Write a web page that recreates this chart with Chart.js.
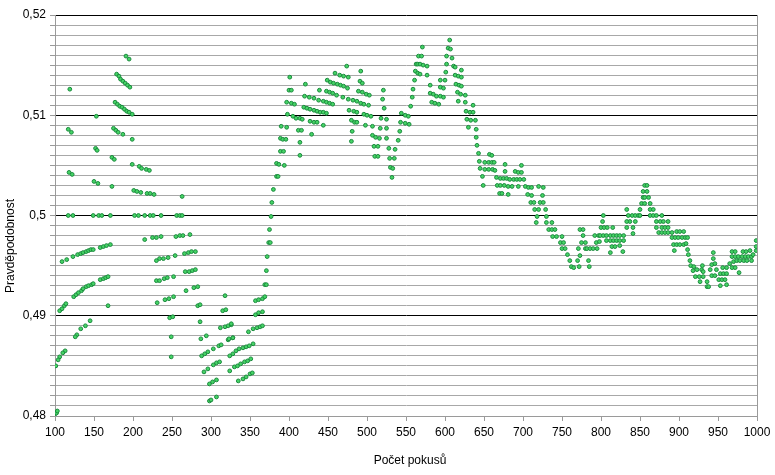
<!DOCTYPE html>
<html>
<head>
<meta charset="utf-8">
<script src="https://cdn.jsdelivr.net/npm/chart.js@4"></script>
<style>
  html, body { margin: 0; padding: 0; background: #fff; }
  #wrap { width: 775px; height: 475px; }
</style>
</head>
<body>
<div id="wrap"><canvas id="probChart" width="775" height="475"></canvas></div>
<script>
// axis settings
const xTitle = "Počet pokusů";
const yTitle = "Pravděpodobnost";
const xMin = 100, xMax = 1000, xStep = 50;
const yMin = 0.48, yMax = 0.52, yStep = 0.001;

// points [pokusy, pravdepodobnost]
const section100to330 = [
  [191,0.5159],[195,0.5156],
  [179,0.5141],[182,0.5139],[184,0.5136],[187,0.5134],[190,0.5132],[193,0.5130],[196,0.5128],
  [119,0.5126],
  [177,0.5113],[180,0.5111],[183,0.5109],[186,0.5108],[189,0.5106],[192,0.5104],[195,0.5103],[199,0.5101],
  [153,0.5099],
  [117,0.5086],[121,0.5083],
  [175,0.5087],[178,0.5085],[181,0.5083],[187,0.5081],
  [199,0.5076],
  [152,0.5067],[154,0.5065],
  [173,0.5058],[176,0.5056],
  [118,0.5043],[122,0.5041],
  [199,0.5051],
  [208,0.5049],[211,0.5047],[217,0.5046],[221,0.5045],
  [150,0.5034],[155,0.5032],
  [173,0.5029],
  [201,0.5025],[205,0.5024],[210,0.5023],[218,0.5022],[222,0.5022],[227,0.5021],
  [263,0.5019],
  [117,0.5],[123,0.5],[149,0.5],[156,0.5],[160,0.5],[171,0.5],[202,0.5],[207,0.5],
  [215,0.5],[222,0.5],[226,0.5],[236,0.5],[256,0.5],[260,0.5],[263,0.5],
  [215,0.4976],[225,0.4978],[230,0.4978],[236,0.4979],[255,0.4979],[260,0.4980],[264,0.4980],[273,0.4981],
  [109,0.4954],[115,0.4956],[123,0.4959],[129,0.4961],[133,0.4962],[136,0.4963],[140,0.4964],
  [143,0.4965],[146,0.4966],[149,0.4966],[158,0.4968],[162,0.4969],[166,0.4970],[171,0.4971],
  [230,0.4955],[234,0.4957],[239,0.4957],[245,0.4958],[254,0.4960],
  [266,0.4962],[271,0.4963],[275,0.4964],[280,0.4964],
  [230,0.4935],[234,0.4935],[240,0.4937],[244,0.4938],[252,0.4939],
  [267,0.4944],[272,0.4944],[276,0.4945],[280,0.4946],
  [158,0.4936],[162,0.4937],[165,0.4938],[168,0.4939],
  [124,0.4919],[127,0.4921],[130,0.4923],[134,0.4925],[136,0.4927],[140,0.4929],[143,0.4930],[147,0.4931],[149,0.4932],
  [168,0.4910],
  [106,0.4905],[109,0.4907],[112,0.4910],[114,0.4912],
  [231,0.4913],[241,0.4916],[246,0.4917],[252,0.4919],
  [268,0.4925],[278,0.4928],[283,0.4929],
  [283,0.4910],[286,0.4911],
  [318,0.4920],
  [315,0.4905],[319,0.4906],
  [247,0.4898],[251,0.4899],
  [286,0.4894],
  [145,0.4895],[139,0.4890],[133,0.4887],[128,0.4881],[126,0.4879],
  [312,0.4888],[318,0.4889],[322,0.4890],[326,0.4891],
  [249,0.4879],
  [287,0.4877],[294,0.4880],
  [322,0.4876],[328,0.4878],
  [113,0.4865],[110,0.4863],[106,0.4859],[104,0.4856],[101,0.4850],
  [249,0.4859],
  [288,0.4860],[292,0.4862],[296,0.4864],[303,0.4867],[310,0.4870],[313,0.4871],
  [324,0.4860],[328,0.4862],
  [291,0.4844],[296,0.4847],
  [303,0.4851],[307,0.4853],[311,0.4854],
  [324,0.4845],
  [298,0.4832],[302,0.4834],[307,0.4836],
  [298,0.4815],[300,0.4816],[307,0.4819],
  [100,0.4799],[102,0.4803],[103,0.4805]
];

const section330to570 = [
  [326,0.4892],
  [323,0.4877],[328,0.4878],
  [332,0.4865],[336,0.4867],[341,0.4868],[345,0.4869],[349,0.4870],[354,0.4872],
  [330,0.4849],[334,0.4850],[338,0.4852],[343,0.4854],[347,0.4855],[351,0.4857],
  [335,0.4835],[341,0.4837],[345,0.4839],[350,0.4842],[353,0.4843],
  [348,0.4884],[354,0.4887],[359,0.4888],[363,0.4889],[366,0.4890],
  [357,0.4901],[361,0.4903],[366,0.4904],
  [357,0.4915],[361,0.4916],[366,0.4917],[369,0.4919],
  [369,0.4931],[371,0.4931],
  [371,0.4945],[372,0.4959],[374,0.4973],[376,0.4973],[375,0.4986],[377,0.4999],[378,0.5013],
  [380,0.5026],[384,0.5039],[386,0.5039],
  [384,0.5052],[387,0.5051],[394,0.5050],
  [389,0.5064],[393,0.5064],
  [389,0.5077],[392,0.5076],[396,0.5076],
  [390,0.5089],[397,0.5088],
  [398,0.5101],
  [397,0.5113],[403,0.5112],[407,0.5111],
  [400,0.5125],[403,0.5125],
  [401,0.5138],
  [405,0.5099],[409,0.5097],[414,0.5097],[417,0.5096],
  [412,0.5085],[416,0.5085],
  [414,0.5073],[414,0.5060],
  [421,0.5131],
  [420,0.5119],[426,0.5118],[432,0.5117],[438,0.5115],[444,0.5114],[448,0.5113],[452,0.5112],[456,0.5111],
  [419,0.5108],[423,0.5107],[427,0.5106],[432,0.5105],[436,0.5104],[440,0.5103],[444,0.5103],[448,0.5102],
  [427,0.5094],[432,0.5093],[436,0.5093],
  [429,0.5081],
  [439,0.5125],
  [444,0.5090],
  [449,0.5135],[453,0.5133],[457,0.5132],[462,0.5131],[466,0.5130],[470,0.5129],[475,0.5127],
  [448,0.5124],[452,0.5123],[456,0.5122],[461,0.5120],[469,0.5118],[476,0.5116],[482,0.5115],
  [487,0.5114],[492,0.5112],[496,0.5111],[502,0.5110],
  [459,0.5142],[465,0.5140],[470,0.5139],[476,0.5138],
  [474,0.5149],
  [492,0.5144],
  [491,0.5134],[494,0.5132],
  [489,0.5124],[494,0.5123],[499,0.5121],[503,0.5120],
  [477,0.5105],[483,0.5104],[487,0.5103],
  [496,0.5101],[500,0.5100],[505,0.5099],
  [480,0.5095],[484,0.5093],[487,0.5093],
  [498,0.5090],[507,0.5089],
  [481,0.5084],[480,0.5074],
  [507,0.5080],[511,0.5078],[516,0.5077],
  [509,0.5069],[514,0.5069],
  [510,0.5059],[514,0.5059],
  [521,0.5125],[520,0.5116],[522,0.5107],[518,0.5097],[525,0.5096],[525,0.5087],[525,0.5077],[528,0.5067],
  [517,0.5087],
  [529,0.5057],[535,0.5057],
  [530,0.5048],[533,0.5047],
  [532,0.5038],
  [536,0.5066],
  [540,0.5075],[542,0.5084],
  [544,0.5102],[549,0.5100],[553,0.5099],[543,0.5093],[549,0.5092],[554,0.5091],
  [556,0.5109],[558,0.5118],[559,0.5126],[561,0.5135],[562,0.5144],[565,0.5142],[563,0.5151],[566,0.5159]
];

const section570to780 = [
  [568,0.5141],
  [565,0.5151],[568,0.5151],[572,0.5150],[577,0.5149],
  [570,0.5159],
  [571,0.5168],
  [577,0.5140],[581,0.5130],
  [581,0.5122],[585,0.5121],[589,0.5119],[594,0.5119],[598,0.5118],
  [583,0.5113],[587,0.5112],[592,0.5111],
  [594,0.5135],[600,0.5135],
  [594,0.5128],[598,0.5127],
  [601,0.5143],[602,0.5151],[602,0.5159],[609,0.5157],[604,0.5167],[607,0.5166],[606,0.5175],
  [611,0.5149],[613,0.5148],
  [613,0.5140],[617,0.5139],[621,0.5138],
  [621,0.5145],
  [614,0.5131],[618,0.5130],[621,0.5129],
  [616,0.5123],[620,0.5121],[626,0.5120],
  [617,0.5114],[626,0.5113],[636,0.5110],
  [627,0.5104],[632,0.5103],[636,0.5103],
  [628,0.5096],[633,0.5095],[639,0.5095],
  [630,0.5088],[640,0.5086],
  [640,0.5078],[641,0.5070],[643,0.5062],
  [657,0.5061],[660,0.5060],
  [644,0.5054],[651,0.5053],[656,0.5053],[660,0.5053],[663,0.5053],
  [645,0.5047],[651,0.5046],[656,0.5046],[661,0.5046],[664,0.5045],
  [648,0.5039],[649,0.5030],
  [677,0.5051],[677,0.5044],
  [690,0.5044],[694,0.5043],[698,0.5043],[698,0.5050],
  [666,0.5038],[671,0.5037],[675,0.5037],[679,0.5037],[683,0.5036],[688,0.5036],[692,0.5036],[696,0.5036],[701,0.5036],
  [667,0.5030],[671,0.5030],[676,0.5030],[681,0.5029],[686,0.5029],[694,0.5029],[703,0.5029],[707,0.5028],[711,0.5028],
  [720,0.5029],[726,0.5028],
  [670,0.5022],[673,0.5022],[681,0.5021],
  [706,0.5021],[711,0.5020],[725,0.5020],
  [710,0.5013],[714,0.5013],[722,0.5013],[726,0.5013],
  [715,0.5006],[720,0.5006],[729,0.5006],
  [718,0.4999],[730,0.4999],
  [717,0.4993],[730,0.4993],[737,0.4993],
  [733,0.4986],[737,0.4986],[741,0.4986],
  [738,0.4979],[743,0.4979],[750,0.4979],
  [748,0.4973],[752,0.4973],
  [750,0.4967],[754,0.4967],
  [757,0.4961],[760,0.4955],[762,0.4949],[765,0.4948],[770,0.4955],[772,0.4949],[773,0.4960],
  [773,0.4986],[777,0.4986],[777,0.4980],[775,0.4973],[780,0.4973],[771,0.4967],[780,0.4967]
];

const section780to1000 = [
  [782,0.4967],[786,0.4967],[790,0.4967],
  [784,0.4955],[785,0.4949],
  [792,0.4980],[797,0.4980],
  [794,0.4973],[798,0.4974],
  [795,0.4967],
  [799,0.4980],[803,0.4980],[807,0.4980],[812,0.4980],[816,0.4980],
  [800,0.4988],[804,0.4988],[808,0.4988],[815,0.4988],
  [802,0.4994],[803,0.5000],
  [807,0.4975],[812,0.4975],[816,0.4975],[820,0.4975],[824,0.4975],[829,0.4975],
  [814,0.4969],[818,0.4969],[824,0.4970],
  [812,0.4963],[828,0.4964],
  [820,0.4980],[824,0.4980],[829,0.4980],
  [833,0.5006],[835,0.5000],[837,0.4994],[841,0.4988],[841,0.4982],
  [833,0.4994],[833,0.4988],
  [840,0.5000],
  [844,0.4994],[844,0.5000],[848,0.5000],[850,0.5006],[852,0.5012],[854,0.5018],[854,0.5024],[856,0.5030],
  [859,0.5030],[859,0.5024],[856,0.5018],[861,0.5018],[856,0.5012],[863,0.5012],[863,0.5006],[867,0.5006],
  [850,0.5000],[863,0.5000],[867,0.5000],[871,0.5000],[878,0.5000],
  [871,0.4994],[876,0.4994],[880,0.4994],[886,0.4994],
  [871,0.4988],[878,0.4988],[882,0.4988],[886,0.4988],
  [874,0.4983],[878,0.4983],[882,0.4983],[886,0.4983],[891,0.4983],[897,0.4984],[901,0.4984],[906,0.4984],
  [891,0.4978],[895,0.4978],[899,0.4978],[904,0.4978],[908,0.4978],[911,0.4978],
  [893,0.4971],[897,0.4971],[901,0.4971],[906,0.4971],[909,0.4972],
  [894,0.4965],
  [911,0.4966],[912,0.4961],[914,0.4955],[915,0.4950],[919,0.4949],[918,0.4945],[923,0.4946],[929,0.4946],
  [921,0.4939],[926,0.4939],[931,0.4939],[927,0.4934],[936,0.4934],[936,0.4929],[938,0.4929],
  [930,0.4950],[931,0.4944],
  [942,0.4940],[946,0.4940],[951,0.4936],[955,0.4936],[959,0.4936],
  [953,0.4930],[961,0.4931],
  [940,0.4946],[948,0.4946],[953,0.4942],[957,0.4942],[961,0.4942],
  [942,0.4951],[946,0.4952],[944,0.4957],[944,0.4963],
  [956,0.4948],[961,0.4948],[968,0.4948],[972,0.4948],
  [965,0.4952],[970,0.4954],[974,0.4955],[978,0.4955],[983,0.4955],[987,0.4955],
  [968,0.4959],[972,0.4959],[976,0.4959],[981,0.4959],[985,0.4959],[989,0.4959],[993,0.4959],
  [968,0.4964],[972,0.4964],[982,0.4964],[986,0.4964],[991,0.4965],
  [977,0.4943],
  [993,0.4955],[999,0.4965],[999,0.4969],[999,0.4975],[995,0.4961]
];

const allPoints = [...section100to330, ...section330to570, ...section570to780, ...section780to1000]
    .map(p => ({ x: p[0], y: p[1] }));

function isMajor(v) {
    return Math.abs(v * 100 - Math.round(v * 100)) < 1e-6;
}

// axis titles drawn where the original has them
const axisTitles = {
    id: "axisTitles",
    afterDraw(chart) {
        const ctx = chart.ctx;
        const area = chart.chartArea;
        ctx.save();
        ctx.fillStyle = "#000";
        ctx.font = "12px 'Liberation Sans', Arial, sans-serif";
        ctx.textAlign = "center";
        ctx.textBaseline = "middle";
        ctx.fillText(xTitle, 410, 461);
        ctx.translate(11, 246);
        ctx.rotate(-Math.PI / 2);
        ctx.fillText(yTitle, 0, 0);
        ctx.restore();
        // right edge of plot area
        ctx.save();
        ctx.strokeStyle = "#9a9a9a";
        ctx.lineWidth = 1;
        ctx.beginPath();
        ctx.moveTo(Math.round(area.right) + 0.5, area.top);
        ctx.lineTo(Math.round(area.right) + 0.5, area.bottom);
        ctx.stroke();
        ctx.restore();
    }
};

const ctx = document.getElementById("probChart").getContext("2d");
new Chart(ctx, {
    type: "scatter",
    data: {
        datasets: [{
            data: allPoints,
            pointRadius: 1.9,
            pointBorderWidth: 1,
            pointBackgroundColor: "#45d465",
            pointBorderColor: "#1b8a3e",
            pointHoverRadius: 1.9
        }]
    },
    options: {
        responsive: false,
        animation: false,
        layout: { padding: { top: 15, right: 18, left: 0, bottom: 0 } },
        plugins: {
            legend: { display: false },
            tooltip: { enabled: false }
        },
        scales: {
            x: {
                type: "linear",
                min: xMin,
                max: xMax,
                afterFit: s => { s.height = 59; },
                ticks: {
                    stepSize: xStep,
                    color: "#000",
                    padding: 4,
                    maxRotation: 0,
                    font: { family: "'Liberation Sans', Arial, sans-serif", size: 12 },
                    callback: v => String(v)
                },
                grid: {
                    drawOnChartArea: false,
                    drawTicks: true,
                    tickLength: 5,
                    color: "#9a9a9a"
                },
                border: { color: "#9a9a9a" }
            },
            y: {
                min: yMin,
                max: yMax,
                afterFit: s => { s.width = 55; },
                ticks: {
                    stepSize: yStep,
                    autoSkip: false,
                    maxTicksLimit: 100,
                    color: "#000",
                    padding: 4,
                    font: { family: "'Liberation Sans', Arial, sans-serif", size: 12 },
                    callback: v => isMajor(v) ? v.toFixed(2).replace(/0+$/, "").replace(".", ",") : ""
                },
                grid: {
                    color: c => (isMajor(c.tick.value) && c.tick.value > yMin + 1e-6) ? "#000" : "#a8a8a8",
                    tickColor: "#9a9a9a",
                    tickLength: 5
                },
                border: { color: "#9a9a9a" }
            }
        }
    },
    plugins: [axisTitles]
});
</script>
</body>
</html>
